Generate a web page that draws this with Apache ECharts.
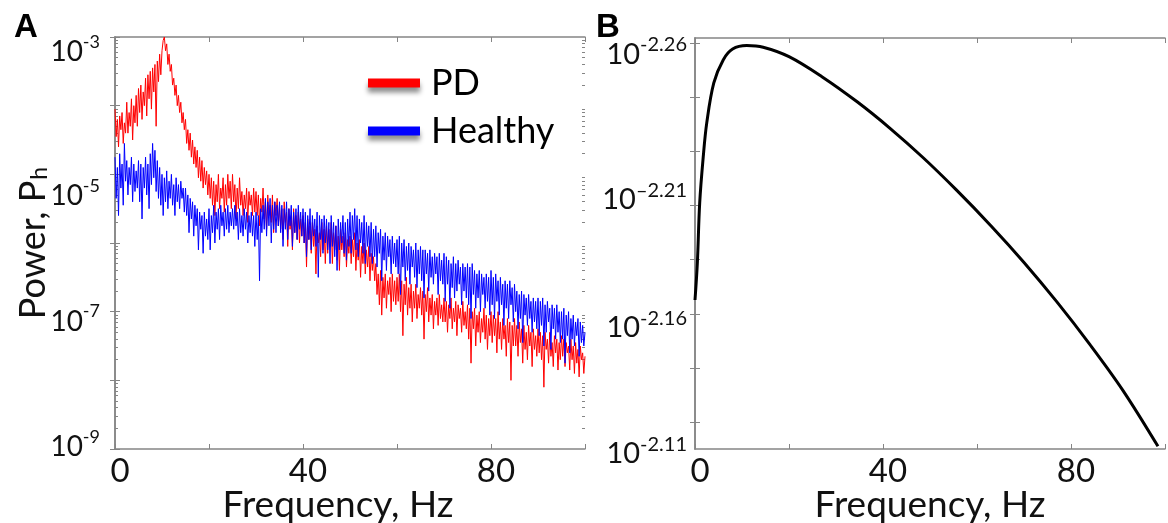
<!DOCTYPE html>
<html><head><meta charset="utf-8">
<script src="https://cdn.jsdelivr.net/npm/echarts@6/dist/echarts.min.js"></script>
<style>html,body{margin:0;padding:0;background:#fff}#c{width:1168px;height:523px}</style>
</head><body><div id="c"></div>
<script>
// ---------- DATA ----------
const freqStepHz = 0.25; // spectra sampled every 0.25 Hz from 0 to 100 Hz
// log10 of power, PD patient (red)
const pdLogPower = [
 -4.05,-4.45,-4.2,-4.6,-4.15,-4.35,-4.1,-4.55,-4.25,-4.4,-3.95,-4.4,-4.1,-4.3,-3.9,-4.5,-4.0,-4.25,-3.85,-4.3,
 -3.75,-4.1,-3.7,-4.2,-3.8,-4.0,-3.6,-4.15,-3.55,-3.9,-3.5,-4.05,-3.45,-3.8,-3.4,-4.3,-3.35,-3.65,-3.25,-3.55,
 -3.2,-3.05,-3.0,-3.2,-3.1,-3.4,-3.25,-3.5,-3.4,-3.7,-3.6,-3.85,-3.7,-4.0,-3.85,-4.1,-3.95,-4.25,-4.1,-4.35,
 -4.2,-4.55,-4.35,-4.65,-4.4,-4.75,-4.5,-4.85,-4.6,-4.9,-4.65,-5.05,-4.75,-5.1,-4.8,-5.2,-4.9,-5.15,-4.95,-5.3,
 -5.0,-5.35,-5.05,-5.45,-5.1,-5.6,-5.15,-5.4,-5.0,-5.5,-5.2,-5.35,-5.05,-5.55,-5.15,-5.45,-5.0,-5.35,-5.1,-5.5,
 -5.0,-5.4,-5.15,-5.65,-5.2,-5.5,-5.05,-5.45,-5.25,-5.6,-5.3,-5.5,-5.2,-5.7,-5.25,-5.45,-5.3,-5.6,-5.2,-5.55,
 -5.25,-5.6,-5.3,-5.75,-5.35,-5.55,-5.2,-5.65,-5.4,-5.8,-5.3,-5.6,-5.45,-5.7,-5.3,-5.85,-5.4,-5.6,-5.35,-5.75,
 -5.45,-5.8,-5.5,-5.95,-5.4,-5.7,-5.55,-6.05,-5.5,-5.8,-5.6,-6.1,-5.5,-5.85,-5.6,-5.95,-5.55,-6.0,-5.65,-5.9,
 -5.6,-6.0,-5.7,-6.35,-5.65,-5.95,-5.75,-6.15,-5.7,-6.05,-5.8,-6.45,-5.75,-6.0,-5.85,-6.2,-5.7,-6.1,-5.8,-6.3,
 -5.75,-6.15,-5.8,-6.05,-5.7,-6.3,-5.85,-6.1,-5.75,-6.25,-5.9,-6.4,-5.8,-6.1,-5.9,-6.2,-5.85,-6.35,-5.95,-6.15,
 -5.9,-6.3,-5.95,-6.2,-5.85,-6.4,-6.0,-6.25,-5.95,-6.5,-6.05,-6.3,-6.0,-6.45,-6.1,-6.35,-6.05,-6.55,-6.15,-6.4,
 -6.2,-6.55,-6.3,-6.75,-6.45,-6.9,-6.4,-7.05,-6.5,-6.8,-6.45,-6.95,-6.55,-6.75,-6.5,-7.0,-6.45,-6.85,-6.55,-6.9,
 -6.5,-6.85,-6.45,-7.0,-6.55,-7.35,-6.6,-6.9,-6.5,-7.05,-6.65,-6.95,-6.6,-7.15,-6.7,-6.95,-6.6,-7.1,-6.75,-6.95,
 -6.65,-7.05,-6.7,-7.4,-6.75,-7.0,-6.65,-7.15,-6.8,-7.05,-6.75,-7.25,-6.85,-7.05,-6.8,-7.2,-6.75,-7.1,-6.9,-7.15,
 -6.8,-7.15,-6.85,-7.3,-6.9,-7.1,-6.8,-7.25,-6.95,-7.15,-6.85,-7.35,-6.9,-7.1,-6.95,-7.3,-6.85,-7.2,-7.0,-7.25,
 -6.9,-7.4,-6.95,-7.75,-7.0,-7.25,-6.95,-7.5,-7.05,-7.3,-7.0,-7.45,-7.1,-7.3,-6.95,-7.4,-7.05,-7.55,-7.1,-7.35,
 -7.0,-7.45,-7.05,-7.35,-7.1,-7.6,-7.0,-7.4,-7.15,-7.55,-7.1,-7.4,-7.2,-7.65,-7.1,-7.45,-7.15,-8.0,-7.2,-7.5,
 -7.1,-7.5,-7.2,-7.65,-7.15,-7.45,-7.25,-7.75,-7.2,-7.55,-7.3,-7.7,-7.2,-7.5,-7.3,-7.8,-7.25,-7.55,-7.35,-7.65,
 -7.25,-7.6,-7.3,-7.7,-7.35,-8.1,-7.3,-7.55,-7.4,-7.75,-7.3,-7.65,-7.45,-7.8,-7.35,-7.6,-7.4,-7.85,-7.45,-7.7,
 -7.35,-7.65,-7.4,-7.8,-7.45,-7.6,-7.5,-7.85,-7.4,-7.7,-7.5,-7.9,-7.45,-7.75,-7.55,-7.95,-7.5,-7.7,-7.6,-7.9,
 -7.65
];
// log10 of power, healthy subject (blue)
const healthyLogPower = [
 -4.75,-5.35,-4.9,-5.6,-4.7,-5.2,-4.85,-5.45,-4.55,-5.1,-4.8,-5.3,-4.9,-5.15,-4.75,-5.4,-4.85,-5.25,-4.95,-5.2,
 -4.8,-5.4,-4.85,-5.65,-4.9,-5.2,-4.75,-5.3,-4.85,-5.5,-4.7,-5.15,-4.55,-5.05,-4.65,-5.25,-4.8,-5.35,-4.9,-5.45,
 -5.0,-5.6,-5.05,-5.4,-4.95,-5.5,-5.1,-5.35,-5.0,-5.45,-5.15,-5.6,-5.05,-5.4,-5.15,-5.5,-5.1,-5.35,-5.2,-5.55,
 -5.2,-5.6,-5.3,-5.85,-5.35,-5.65,-5.4,-5.9,-5.45,-5.75,-5.5,-6.1,-5.55,-5.8,-5.6,-6.15,-5.55,-5.9,-5.65,-5.95,
 -5.5,-6.1,-5.6,-5.85,-5.45,-6.0,-5.55,-5.8,-5.5,-5.95,-5.45,-5.75,-5.55,-5.9,-5.5,-5.8,-5.45,-5.85,-5.55,-5.75,
 -5.5,-5.8,-5.45,-5.75,-5.55,-5.95,-5.5,-5.85,-5.6,-5.9,-5.5,-5.8,-5.55,-6.0,-5.6,-5.85,-5.55,-5.9,-5.6,-6.05,
 -5.55,-5.95,-5.6,-6.55,-5.5,-5.85,-5.45,-5.8,-5.35,-5.9,-5.4,-5.75,-5.35,-6.0,-5.45,-5.8,-5.4,-5.85,-5.45,-5.75,
 -5.4,-5.85,-5.45,-6.05,-5.5,-5.8,-5.4,-5.95,-5.5,-5.75,-5.45,-6.05,-5.55,-5.85,-5.5,-5.95,-5.45,-5.8,-5.55,-5.9,
 -5.5,-6.0,-5.55,-6.2,-5.6,-5.95,-5.5,-6.1,-5.6,-5.9,-5.65,-6.05,-5.55,-6.5,-5.6,-5.95,-5.65,-6.15,-5.6,-6.0,
 -5.65,-6.1,-5.7,-6.3,-5.6,-6.05,-5.7,-6.2,-5.75,-6.4,-5.65,-6.1,-5.7,-6.0,-5.6,-6.15,-5.7,-6.25,-5.65,-6.05,
 -5.55,-6.15,-5.6,-5.95,-5.5,-6.1,-5.6,-6.2,-5.65,-6.0,-5.7,-6.15,-5.6,-6.3,-5.7,-6.05,-5.75,-6.2,-5.7,-6.3,
 -5.8,-6.2,-5.75,-6.35,-5.85,-6.15,-5.8,-6.55,-5.9,-6.25,-5.85,-6.4,-5.9,-6.2,-5.95,-6.45,-5.9,-6.3,-6.0,-6.35,
 -5.95,-6.45,-5.9,-6.75,-6.0,-6.35,-5.95,-6.55,-6.05,-6.4,-6.0,-6.6,-6.05,-6.35,-6.1,-6.5,-6.0,-6.65,-6.1,-6.45,
 -6.05,-6.55,-6.1,-6.8,-6.1,-6.45,-6.15,-6.7,-6.1,-6.5,-6.2,-6.6,-6.15,-6.45,-6.2,-6.75,-6.15,-6.55,-6.25,-6.6,
 -6.15,-6.85,-6.2,-6.6,-6.25,-6.95,-6.3,-6.65,-6.2,-6.8,-6.3,-6.7,-6.25,-6.6,-6.35,-6.9,-6.3,-6.7,-6.35,-6.8,
 -6.3,-6.9,-6.35,-7.1,-6.3,-6.75,-6.4,-6.95,-6.45,-6.8,-6.4,-7.0,-6.45,-6.75,-6.5,-6.95,-6.45,-6.85,-6.5,-7.05,
 -6.4,-6.9,-6.5,-7.1,-6.45,-6.85,-6.55,-7.05,-6.5,-6.9,-6.6,-7.2,-6.55,-6.95,-6.6,-7.1,-6.55,-6.9,-6.65,-7.15,
 -6.6,-7.0,-6.7,-7.25,-6.75,-7.1,-6.7,-7.45,-6.75,-7.05,-6.8,-7.2,-6.75,-7.1,-6.85,-7.3,-6.8,-7.15,-6.85,-7.25,
 -6.8,-7.35,-6.85,-7.2,-6.8,-7.5,-6.9,-7.3,-6.85,-7.15,-6.95,-7.55,-6.9,-7.25,-6.95,-7.4,-6.9,-7.3,-7.0,-7.45,
 -7.0,-7.4,-6.95,-7.75,-7.05,-7.35,-7.0,-7.6,-7.1,-7.4,-7.05,-7.5,-7.15,-7.35,-7.1,-7.65,-7.15,-7.45,-7.2,-7.5,
 -7.3
];
const seriesNames = ['PD', 'Healthy'];
const xTickLabels = [0, 40, 80];
const yLabelExpA = [-3, -5, -7, -9];
const yDecadesA = [-9, -8, -7, -6, -5, -4];       // decades that carry 2..9 minor ticks
const minorMantissa = [2, 3, 4, 5, 6, 7, 8, 9];
// Panel B model curve
const modelFreq = [0, 0.5, 1, 1.75, 2.5, 4, 6, 8, 11, 14.5, 20, 27, 34.5, 41.5, 48.5, 55.5, 63, 70, 77, 84, 91, 98.5];
const modelLogPower = [2.1651, 2.1788, 2.2010, 2.2180, 2.2306, 2.2454, 2.2539, 2.2579, 2.2592, 2.2586, 2.2551, 2.2477, 2.2384, 2.2286, 2.2178, 2.2060, 2.1925, 2.1790, 2.1644, 2.1487, 2.1318, 2.1110];
const yLabelsB = [2.11, 2.16, 2.21, 2.26];
const yLabelTextB = ['-2.11', '-2.16', '\u20132.21', '-2.26'];
const yTicksB = [2.12, 2.14, 2.16, 2.18, 2.20, 2.22, 2.24, 2.26];

// ---------- STYLE HELPERS ----------
const FONT = 'Lato';
const axisGray = '#858585';
const shiftA = {'-3': 15, '-5': 22, '-7': 10, '-9': -2};
const shiftB = {'2.26': 11, '2.21': 21, '2.16': 14, '2.11': 5};
function supRich(prefix, keys, shifts, mainSize, supSize) {
  const rich = {};
  keys.forEach((k, i) => {
    const d = shifts[k] || 0, r = 5;
    const ptm = Math.max(2 * d, 0) + r, pbm = ptm - 2 * d;
    rich[prefix + 'm' + i] = {fontFamily: FONT, fontSize: mainSize, color: '#111', padding: [ptm, 0, pbm, 0]};
    rich[prefix + 's' + i] = {fontFamily: FONT, fontSize: supSize, color: '#111', verticalAlign: 'top', padding: [ptm - r, 0, 0, 0]};
  });
  return rich;
}
const keysA = yLabelExpA.map(String);
const keysB = yLabelsB.map(v => v.toFixed(2));
const minorTicksA = [];
yDecadesA.forEach(e => minorMantissa.forEach(m => minorTicksA.push(m * Math.pow(10, e))));

const pdData = pdLogPower.map((e, i) => [i * freqStepHz, Math.pow(10, e)]);
const hData = healthyLogPower.map((e, i) => [i * freqStepHz, Math.pow(10, e)]);
const modelData = modelFreq.map((f, i) => [f, modelLogPower[i]]);

const axisLine = {show: true, lineStyle: {color: axisGray, width: 1.5}};
const tickIn = {show: true, inside: true, length: 5, lineStyle: {color: axisGray, width: 1}};
const minorTickIn = {show: true, inside: true, length: 3, customValues: minorTicksA, lineStyle: {color: axisGray, width: 1}};
const xLab = {
  show: true, fontFamily: FONT, fontSize: 33, color: '#111', margin: 6, padding: [0, 0, 0, 10],
  formatter: v => xTickLabels.includes(v) ? String(v) : ''
};
const xName = {fontFamily: FONT, fontSize: 37, color: '#111'};
const logBaseA = {gridIndex: 0, type: 'log', logBase: 10, min: 1e-9, max: 1e-3, interval: 1, splitLine: {show: false}};

const chart = echarts.init(document.getElementById('c'), null, {renderer: 'canvas'});
chart.setOption({
  animation: false,
  backgroundColor: '#fff',
  grid: [
    {left: 115, top: 37, width: 470, height: 412, containLabel: false, outerBoundsMode: 'none'},
    {left: 695, top: 38, width: 470, height: 411, containLabel: false, outerBoundsMode: 'none'}
  ],
  legend: {
    data: seriesNames, orient: 'vertical', left: 363, top: 60, icon: 'rect',
    itemWidth: 52, itemHeight: 9, itemGap: 12,
    textStyle: {fontFamily: FONT, fontSize: 36, color: '#000', padding: [0, 0, 0, 6]},
    itemStyle: {shadowColor: 'rgba(0,0,0,0.45)', shadowBlur: 5, shadowOffsetY: 5}
  },
  xAxis: [
    {gridIndex: 0, type: 'value', min: 0, max: 100, interval: 20, position: 'bottom',
     axisLine, axisTick: tickIn, splitLine: {show: false}, axisLabel: xLab,
     name: 'Frequency, Hz', nameLocation: 'middle', nameGap: 38, nameMoveOverlap: false,
     nameTextStyle: {...xName, padding: [0, 24, 0, 0]}},
    {gridIndex: 0, type: 'value', min: 0, max: 100, interval: 20, position: 'top',
     axisLine, axisTick: tickIn, splitLine: {show: false}, axisLabel: {show: false}},
    {gridIndex: 1, type: 'value', min: 0, max: 100, interval: 20, position: 'bottom',
     axisLine, axisTick: tickIn, splitLine: {show: false}, axisLabel: xLab,
     name: 'Frequency, Hz', nameLocation: 'middle', nameGap: 38, nameMoveOverlap: false, nameTextStyle: xName},
    {gridIndex: 1, type: 'value', min: 0, max: 100, interval: 20, position: 'top',
     axisLine, axisTick: tickIn, splitLine: {show: false}, axisLabel: {show: false}}
  ],
  yAxis: [
    {...logBaseA, position: 'left', axisLine, axisTick: tickIn,
     axisLabel: {
       margin: 15, align: 'right',
       formatter: v => {
         const e = Math.round(Math.log10(v));
         const i = yLabelExpA.indexOf(e);
         if (i < 0) return '';
         return '{Am' + i + '|10}{As' + i + '|' + e + '}';
       },
       rich: supRich('A', keysA, shiftA, 28, 18)
     },
     name: '{t|Power, P}{sub|h}', nameLocation: 'middle', nameGap: 64, nameMoveOverlap: false,
     nameTextStyle: {rich: {
       t: {fontFamily: FONT, fontSize: 36, color: '#111'},
       sub: {fontFamily: FONT, fontSize: 23, color: '#111', verticalAlign: 'bottom', padding: [0, 0, 0, 1]}
     }}},
    {...logBaseA, position: 'right', axisLine, axisTick: tickIn, axisLabel: {show: false}},
    {gridIndex: 1, type: 'value', min: 2.11, max: 2.262, position: 'left',
     axisLine, axisTick: {...tickIn, customValues: yTicksB}, splitLine: {show: false},
     axisLabel: {
       margin: 8, align: 'right', customValues: yLabelsB,
       formatter: v => {
         const i = yLabelsB.findIndex(x => Math.abs(x - v) < 1e-6);
         if (i < 0) return '';
         return '{Bm' + i + '|10}{Bs' + i + '|' + yLabelTextB[i] + '}';
       },
       rich: supRich('B', keysB, shiftB, 29, 20)
     }},
    {gridIndex: 1, type: 'value', min: 2.11, max: 2.262, position: 'right',
     axisLine, axisTick: {...tickIn, customValues: yTicksB}, splitLine: {show: false}, axisLabel: {show: false}},
    {...logBaseA, position: 'left', axisLine: {show: false}, axisTick: minorTickIn, axisLabel: {show: false}},
    {...logBaseA, position: 'right', axisLine: {show: false}, axisTick: minorTickIn, axisLabel: {show: false}}
  ],
  series: [
    {name: seriesNames[0], type: 'line', xAxisIndex: 0, yAxisIndex: 0, data: pdData, color: '#ff0000',
     showSymbol: false, symbol: 'none', lineStyle: {width: 1, color: '#ff0000'}, z: 2},
    {name: seriesNames[1], type: 'line', xAxisIndex: 0, yAxisIndex: 0, data: hData, color: '#0000ff',
     showSymbol: false, symbol: 'none', lineStyle: {width: 1, color: '#0000ff'}, z: 3},
    {name: 'Model', type: 'line', xAxisIndex: 2, yAxisIndex: 2, data: modelData, color: '#000',
     showSymbol: false, symbol: 'none', smooth: 0.35, lineStyle: {width: 3, color: '#000'}, z: 3}
  ],
  graphic: [
    {type: 'text', left: 14, top: 11, style: {text: 'A', font: 'bold 33px "Liberation Sans"', fill: '#000'}},
    {type: 'text', left: 596, top: 11, style: {text: 'B', font: 'bold 33px "Liberation Sans"', fill: '#000'}}
  ]
});
</script></body></html>
